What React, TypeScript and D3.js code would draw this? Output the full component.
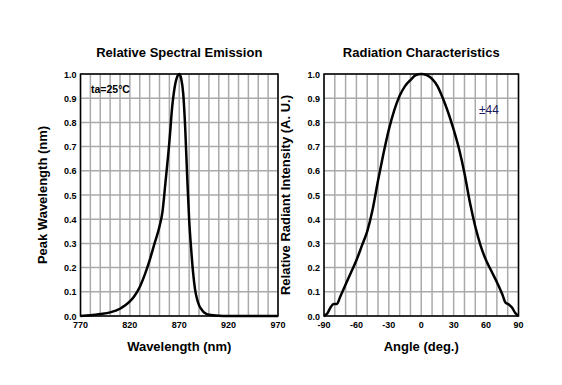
import React from 'react'
import * as d3 from 'd3'

// spectral emission (wavelength nm -> relative)
const wavelength = [770, 780, 790, 800, 810, 815, 820, 825, 830, 835, 840, 845, 850, 853, 856, 860, 863, 866, 868, 870, 872, 874, 876, 878, 880, 882, 884, 886, 888, 890, 893, 896, 900, 910, 920, 970]
const emission = [0, 0.003, 0.008, 0.015, 0.03, 0.043, 0.06, 0.085, 0.12, 0.17, 0.23, 0.3, 0.37, 0.43, 0.55, 0.72, 0.87, 0.96, 0.99, 1.0, 0.98, 0.92, 0.78, 0.58, 0.4, 0.28, 0.18, 0.11, 0.07, 0.045, 0.025, 0.012, 0.005, 0.001, 0, 0]
const wlTicks = [770, 820, 870, 920, 970]

// radiation characteristics (angle deg -> relative)
const angle = [-90, -87, -84, -81, -78, -75, -70, -65, -60, -55, -50, -45, -40, -35, -30, -25, -20, -15, -10, -5, 0, 5, 10, 15, 20, 25, 30, 35, 40, 45, 50, 55, 60, 65, 70, 75, 78, 81, 84, 87, 90]
const intensity = [0, 0.01, 0.035, 0.05, 0.05, 0.08, 0.13, 0.18, 0.23, 0.29, 0.35, 0.44, 0.56, 0.67, 0.77, 0.85, 0.91, 0.95, 0.975, 0.995, 1.0, 0.995, 0.98, 0.95, 0.9, 0.84, 0.77, 0.69, 0.59, 0.47, 0.37, 0.29, 0.23, 0.185, 0.14, 0.09, 0.055, 0.048, 0.035, 0.012, 0]
const angTicks = [-90, -60, -30, 0, 30, 60, 90]

const yTicks = d3.range(0, 11).map(i => i / 10)

const font = '"Liberation Sans", Arial, sans-serif'

type PanelProps = {
  left: number
  right: number
  xs: number[]
  ys: number[]
  domain: [number, number]
  step: number
  ticks: number[]
  title: string
  xLabel: string
  yLabel: string
  children?: React.ReactNode
}

function Panel(props: PanelProps) {
  const top = 74
  const bottom = 316
  const x = d3.scaleLinear().domain(props.domain).range([props.left, props.right])
  const y = d3.scaleLinear().domain([0, 1]).range([bottom, top])
  const gridX = d3.range(props.domain[0], props.domain[1] + 0.001, props.step)
  const line = d3
    .line<number>()
    .x((d, i) => x(props.xs[i]))
    .y(d => y(d))
    .curve(d3.curveMonotoneX)
  const cx = (props.left + props.right) / 2
  return (
    <g>
      <text x={cx} y={57} textAnchor="middle" fontSize={13} fontWeight="bold" fontFamily={font}>
        {props.title}
      </text>
      {gridX.map(v => (
        <line key={'gx' + v} x1={x(v)} x2={x(v)} y1={top} y2={bottom} stroke="#aaa" strokeWidth={1.5} />
      ))}
      {yTicks.map(v => (
        <line key={'gy' + v} x1={props.left} x2={props.right} y1={y(v)} y2={y(v)} stroke="#aaa" strokeWidth={1.5} />
      ))}
      <rect x={props.left} y={top} width={props.right - props.left} height={bottom - top} fill="none" stroke="#000" strokeWidth={1.5} />
      {yTicks.map(v => (
        <text key={'ty' + v} x={props.left - 4} y={y(v) + 3.5} textAnchor="end" fontSize={9} fontWeight="bold" fontFamily={font}>
          {v.toFixed(1)}
        </text>
      ))}
      {props.ticks.map(v => (
        <text key={'tx' + v} x={x(v)} y={328} textAnchor="middle" fontSize={9} fontWeight="bold" fontFamily={font}>
          {v}
        </text>
      ))}
      <path d={line(props.ys) || ''} fill="none" stroke="#000" strokeWidth={2.5} strokeLinejoin="round" />
      <text x={cx} y={351} textAnchor="middle" fontSize={13} fontWeight="bold" fontFamily={font}>
        {props.xLabel}
      </text>
      <text
        transform={`translate(${props.left - 34},${(top + bottom) / 2}) rotate(-90)`}
        textAnchor="middle"
        fontSize={13}
        fontWeight="bold"
        fontFamily={font}
      >
        {props.yLabel}
      </text>
      {props.children}
    </g>
  )
}

export default function App() {
  return (
    <svg width={562} height={385} style={{display: 'block', position: 'absolute', left: 0, top: 0}}>
      <rect width={562} height={385} fill="#fff" />
      <Panel
        left={80.5}
        right={278}
        xs={wavelength}
        ys={emission}
        domain={[770, 970]}
        step={10}
        ticks={wlTicks}
        title="Relative Spectral Emission"
        xLabel="Wavelength (nm)"
        yLabel="Peak Wavelength (nm)"
      >
        <text x={91} y={93} fontSize={10.5} fontWeight="bold" fontFamily={font}>
          ta=25°C
        </text>
      </Panel>
      <Panel
        left={324}
        right={518.5}
        xs={angle}
        ys={intensity}
        domain={[-90, 90]}
        step={10}
        ticks={angTicks}
        title="Radiation Characteristics"
        xLabel="Angle (deg.)"
        yLabel="Relative Radiant Intensity (A. U.)"
      >
        <text x={479} y={114} fontSize={12} fontFamily={font} fill="#1c1c5c">
          ±44
        </text>
      </Panel>
    </svg>
  )
}
